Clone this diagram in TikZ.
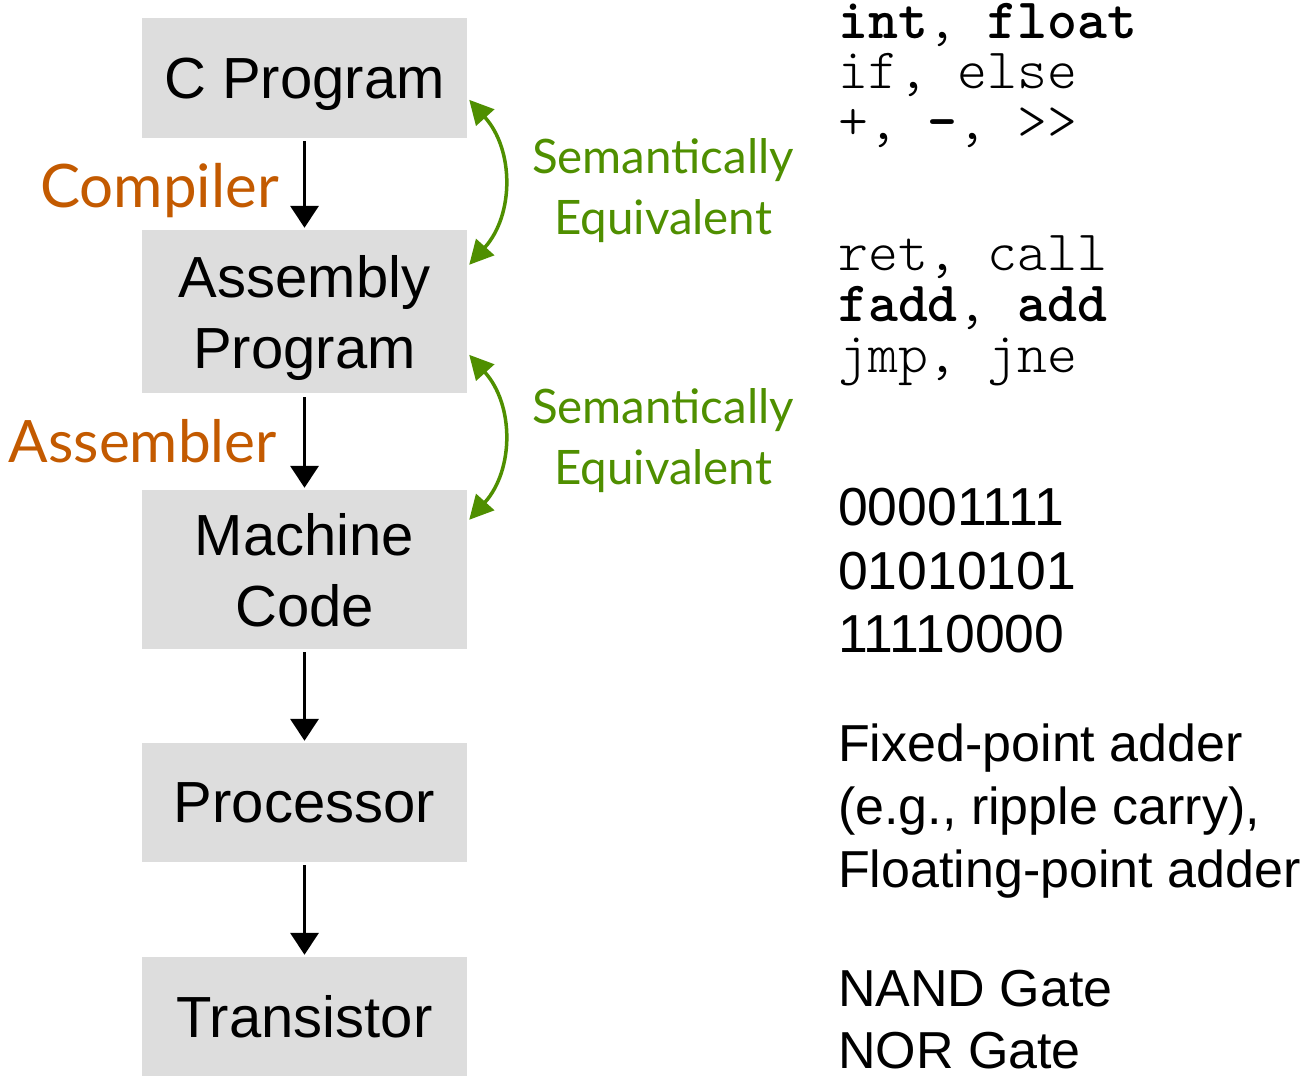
\documentclass[tikz,border=0pt]{standalone}
\usepackage{fontspec}
\setmainfont{Liberation Sans}
\newfontfamily\gillfont{Lato}
\usetikzlibrary{arrows.meta,calc}
\definecolor{boxgray}{HTML}{DDDDDD}
\definecolor{eqgreen}{HTML}{4F8F00}
\definecolor{toolorange}{HTML}{C35A00}
\newcommand{\cb}[1]{{\fontseries{b}\selectfont #1}}
\begin{document}
\begin{tikzpicture}[x=1pt,y=-1pt,
  layerbox/.style={fill=boxgray, draw=none, minimum width=325pt, inner sep=0pt,
    align=center, text depth=0pt, font=\fontsize{58}{71}\selectfont},
  flowarrow/.style={draw=black, line width=3.5pt, -{Triangle[width=28pt,length=22pt]}},
  eqarrow/.style={draw=eqgreen, line width=3.5pt, {Triangle[width=24pt,length=24pt]}-{Triangle[width=24pt,length=24pt]}},
  eqlabel/.style={text=eqgreen, align=center, font=\gillfont\fontsize{47.5}{61}\selectfont, inner sep=0pt},
  toollabel/.style={text=toolorange, font=\gillfont\fontsize{60}{62}\selectfont, inner sep=0pt, anchor=base east},
  codeline/.style={font=\ttfamily\fontseries{l}\fontsize{57}{51}\selectfont, anchor=base west, inner sep=0pt,
    text height=32pt, text depth=8pt},
  descline/.style={font=\fontsize{52}{63}\selectfont, anchor=base west, inner sep=0pt,
    text height=38pt, text depth=0pt},
  digitline/.style={font=\fontsize{53.5}{63}\selectfont, anchor=base west, inner sep=0pt,
    text height=38pt, text depth=0pt}
]
\useasboundingbox (0,0) rectangle (1300,1076);

\node[layerbox, minimum height=120pt] (cprog) at (304.5,78) {C Program};
\node[layerbox, minimum height=163pt] (asm) at (304.5,311.5) {Assembly\\Program};
\node[layerbox, minimum height=159pt] (mach) at (304.5,569.5) {Machine\\Code};
\node[layerbox, minimum height=119pt] (proc) at (304.5,802.5) {Processor};
\node[layerbox, minimum height=119pt] (trans) at (304.5,1016.5) {Transistor};

\draw[flowarrow] ($(cprog.south)+(0,3)$) -- ($(asm.north)+(0,-2)$);
\draw[flowarrow] ($(asm.south)+(0,4)$) -- ($(mach.north)+(0,-2)$);
\draw[flowarrow] ($(mach.south)+(0,3)$) -- ($(proc.north)+(0,-2)$);
\draw[flowarrow] ($(proc.south)+(0,3)$) -- ($(trans.north)+(0,-2)$);

\node[toollabel] (compiler) at (279,207) {Compiler};
\node[toollabel, font=\gillfont\fontsize{58.5}{62}\selectfont] (assembler) at (277,462) {Assembler};

\coordinate (e1a) at ($(cprog.north east)+(2,82)$);
\coordinate (e1b) at ($(asm.north east)+(2,35)$);
\coordinate (e2a) at ($(asm.north east)+(2,125)$);
\coordinate (e2b) at ($(mach.north east)+(2,30)$);
\draw[eqarrow] (e1a) .. controls ($(e1a)+(45,50)$) and ($(e1b)+(45,-50)$) .. (e1b);
\draw[eqarrow] (e2a) .. controls ($(e2a)+(45,50)$) and ($(e2b)+(45,-50)$) .. (e2b);

\node[eqlabel, anchor=base] (eq1) at (663,234) {Semantically\\Equivalent};
\node[eqlabel, anchor=base] (eq2) at (663,484) {Semantically\\Equivalent};

\node[codeline] (c1) at (838,38) {\cb{int}, \cb{float}};
\node[codeline] (c2) at (838,88) {if, else};
\node[codeline] (c3) at (838,139) {+, \cb{-}, >{}>};
\node[codeline] (a1) at (838,270) {ret, call};
\node[codeline] (a2) at (838,321) {\cb{fadd}, \cb{add}};
\node[codeline] (a3) at (838,372) {jmp, jne};

\node[digitline] (m1) at (838,525) {00001111};
\node[digitline] (m2) at (838,589) {01010101};
\node[digitline] (m3) at (838,652) {11110000};
\node[descline] (p1) at (838,761) {Fixed-point adder};
\node[descline] (p2) at (838,824) {(e.g., ripple carry),};
\node[descline] (p3) at (838,887) {Floating-point adder};
\node[descline] (t1) at (838,1006) {NAND Gate};
\node[descline] (t2) at (838,1068) {NOR Gate};
\end{tikzpicture}
\end{document}
